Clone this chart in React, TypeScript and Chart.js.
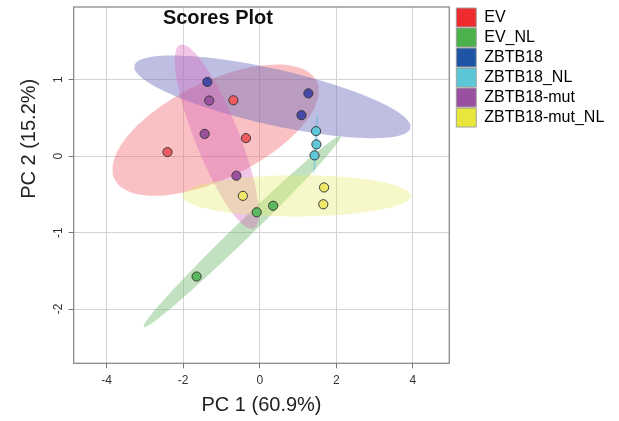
import React, { useEffect, useRef } from 'react';
import { Chart, registerables } from 'chart.js';

Chart.register(...registerables);

// ---- data ----
const groups = ['EV', 'EV_NL', 'ZBTB18', 'ZBTB18_NL', 'ZBTB18-mut', 'ZBTB18-mut_NL'];

const pc1EV = [-0.69, -0.36, -2.41];
const pc2EV = [0.73, 0.235, 0.052];
const pc1EVNL = [-0.08, 0.35, -1.65];
const pc2EVNL = [-0.735, -0.65, -1.575];
const pc1ZB = [-1.37, 1.27, 1.09];
const pc2ZB = [0.97, 0.82, 0.535];
const pc1ZBNL = [1.47, 1.48, 1.43];
const pc2ZBNL = [0.326, 0.153, 0.009];
const pc1Mut = [-1.32, -1.44, -0.61];
const pc2Mut = [0.727, 0.29, -0.257];
const pc1MutNL = [1.68, 1.66, -0.44];
const pc2MutNL = [-0.41, -0.63, -0.52];

const pc1Values = [pc1EV, pc1EVNL, pc1ZB, pc1ZBNL, pc1Mut, pc1MutNL];
const pc2Values = [pc2EV, pc2EVNL, pc2ZB, pc2ZBNL, pc2Mut, pc2MutNL];

const xTitle = 'PC 1 (60.9%)';
const yTitle = 'PC 2 (15.2%)';
const chartTitle = 'Scores Plot';
const confidenceLevel = 0.95;

// ---- styles ----
const legendColors = ['#EE2B2E', '#4BB14B', '#1F55A5', '#5AC6D6', '#9A50A0', '#E8E63A'];
const pointColors = ['#EF5A5E', '#5CB85C', '#4548A8', '#5EC7D8', '#9A52A0', '#EFE86A'];
const ellipseColors = [
  'rgba(240,100,105,0.40)',
  'rgba(100,180,100,0.40)',
  'rgba(110,110,190,0.45)',
  'rgba(80,190,220,0.45)',
  'rgba(215,95,185,0.36)',
  'rgba(230,235,100,0.35)',
];
const FONT = "'Liberation Sans', Arial, Helvetica, sans-serif";

// 95% data ellipse of each group, derived from its points (covariance ellipse)
function dataEllipse(xs: number[], ys: number[], level: number, n = 120) {
  const m = xs.length;
  const mx = xs.reduce((a, b) => a + b, 0) / m;
  const my = ys.reduce((a, b) => a + b, 0) / m;
  let sxx = 0, syy = 0, sxy = 0;
  for (let i = 0; i < m; i++) {
    sxx += (xs[i] - mx) ** 2;
    syy += (ys[i] - my) ** 2;
    sxy += (xs[i] - mx) * (ys[i] - my);
  }
  sxx /= m - 1; syy /= m - 1; sxy /= m - 1;
  const sx = Math.sqrt(sxx), sy = Math.sqrt(syy);
  const r = Math.max(-1, Math.min(1, sxy / (sx * sy)));
  const t = Math.sqrt(-2 * Math.log(1 - level));
  const d = Math.acos(r);
  const pts: { x: number; y: number }[] = [];
  for (let i = 0; i <= n; i++) {
    const a = (2 * Math.PI * i) / n;
    pts.push({ x: mx + t * sx * Math.cos(a + d / 2), y: my + t * sy * Math.cos(a - d / 2) });
  }
  return pts;
}

const framePlugin = {
  id: 'frameAndTitle',
  afterDatasetsDraw(chart: any) {
    const { ctx, chartArea } = chart;
    const { left, top, right, bottom } = chartArea;
    ctx.save();
    ctx.strokeStyle = '#808080';
    ctx.lineWidth = 1.2;
    ctx.strokeRect(left, top, right - left, bottom - top);
    ctx.fillStyle = '#111';
    ctx.font = `bold 20px ${FONT}`;
    ctx.textAlign = 'center';
    ctx.textBaseline = 'middle';
    ctx.fillText(chartTitle, left + (right - left) * 0.384, top + 11);
    // y-axis title (placed as in the reference, above the plot-region centre)
    ctx.fillStyle = '#222';
    ctx.font = `20px ${FONT}`;
    ctx.translate(left - 44, top + (bottom - top) * 0.37);
    ctx.rotate(-Math.PI / 2);
    ctx.fillText(yTitle, 0, 0);
    ctx.restore();
  },
};

export default function App() {
  const ref = useRef<HTMLCanvasElement>(null);
  useEffect(() => {
    const ellipseSets = groups.map((g, i) => ({
      label: g + ' ellipse',
      data: dataEllipse(pc1Values[i], pc2Values[i], confidenceLevel),
      showLine: true,
      fill: 'shape',
      backgroundColor: ellipseColors[i],
      borderWidth: 0,
      borderColor: 'rgba(0,0,0,0)',
      pointRadius: 0,
      tension: 0,
      order: 20 - i,
    }));
    const pointSets = groups.map((g, i) => ({
      label: g,
      data: pc1Values[i].map((x, k) => ({ x, y: pc2Values[i][k] })),
      backgroundColor: pointColors[i],
      borderColor: '#3a3a3a',
      borderWidth: 1,
      pointRadius: 4.6,
      order: i,
    }));
    const grid = {
      color: '#d4d4d4',
      borderDash: [1.5, 2],
      lineWidth: 1,
      tickColor: '#777',
      tickLength: 5,
      tickWidth: 1,
      tickBorderDash: [],
    };
    const chart = new Chart(ref.current as HTMLCanvasElement, {
      type: 'scatter',
      data: { datasets: [...pointSets, ...ellipseSets] as any },
      options: {
        responsive: false,
        devicePixelRatio: 1,
        animation: false,
        layout: { padding: { top: 7, right: 4.7, bottom: 0, left: 0 } },
        plugins: {
          tooltip: { enabled: false },
          legend: {
            position: 'right',
            align: 'start',
            maxWidth: 220,
            labels: {
              boxWidth: 20,
              boxHeight: 19,
              padding: 1,
              color: '#222',
              font: { size: 16, family: FONT },
              generateLabels: () =>
                groups.map((g, i) => ({
                  text: g,
                  fillStyle: legendColors[i],
                  strokeStyle: '#a0a0a0',
                  lineWidth: 1,
                  hidden: false,
                  datasetIndex: i,
                })),
            },
          },
        },
        scales: {
          x: {
            type: 'linear',
            position: 'bottom',
            min: -4.86,
            max: 4.95,
            ticks: {
              stepSize: 2,
              includeBounds: false,
              maxRotation: 0,
              padding: 5,
              color: '#333',
              font: { size: 12, family: FONT },
            },
            grid,
            border: { display: false },
            title: {
              display: true,
              text: xTitle,
              color: '#222',
              font: { size: 20, family: FONT },
              padding: { top: 0, bottom: 4 },
            },
            afterFit: (s: any) => {
              s.height = 57.7;
              s.paddingLeft = 0;
              s.paddingRight = 0;
            },
          },
          y: {
            type: 'linear',
            position: 'left',
            min: -2.71,
            max: 1.95,
            ticks: {
              stepSize: 1,
              includeBounds: false,
              minRotation: 90,
              maxRotation: 90,
              crossAlign: 'center',
              padding: 5,
              color: '#333',
              font: { size: 12, family: FONT },
            },
            grid,
            border: { display: false },
            title: { display: false },
            afterFit: (s: any) => {
              s.width = 73.7;
              s.paddingTop = 0;
              s.paddingBottom = 0;
            },
          },
          gap: {
            type: 'linear',
            position: 'right',
            display: true,
            ticks: { display: false },
            grid: { display: false },
            border: { display: false },
            afterFit: (s: any) => {
              s.width = 6;
              s.paddingTop = 0;
              s.paddingBottom = 0;
            },
          },
        },
      } as any,
      plugins: [framePlugin],
    });
    return () => chart.destroy();
  }, []);
  return (
    <div style={{ position: 'absolute', left: 0, top: 0, width: 619, height: 421 }}>
      <canvas ref={ref} width={619} height={421} style={{ display: 'block' }} />
    </div>
  );
}
